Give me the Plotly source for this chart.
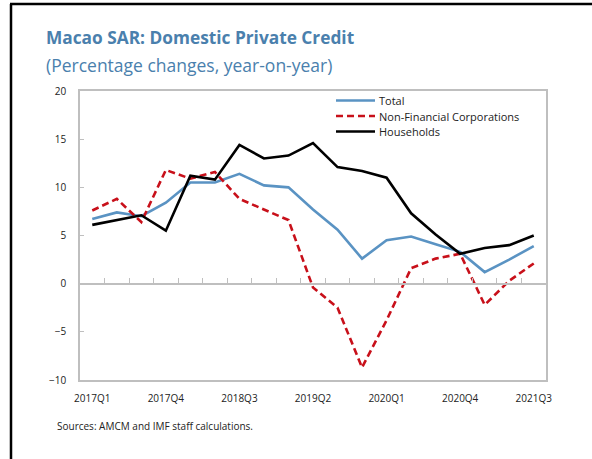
import plotly.graph_objects as go

# Quarterly year-on-year growth of domestic private credit, Macao SAR
quarters = ["2017Q1", "2017Q2", "2017Q3", "2017Q4", "2018Q1", "2018Q2", "2018Q3",
            "2018Q4", "2019Q1", "2019Q2", "2019Q3", "2019Q4", "2020Q1", "2020Q2",
            "2020Q3", "2020Q4", "2021Q1", "2021Q2", "2021Q3"]
total = [6.7, 7.4, 7.0, 8.4, 10.5, 10.5, 11.4, 10.2, 10.0, 7.7, 5.6, 2.6,
         4.5, 4.9, 4.1, 3.3, 1.2, 2.5, 3.9]
non_financial = [7.6, 8.8, 6.4, 11.8, 10.9, 11.6, 8.8, 7.7, 6.6, -0.4, -2.5, -8.7,
                 -3.8, 1.6, 2.6, 3.1, -2.2, 0.3, 2.1]
households = [6.1, 6.6, 7.1, 5.5, 11.2, 10.8, 14.4, 13.0, 13.3, 14.6, 12.1, 11.7,
              11.0, 7.3, 5.1, 3.1, 3.7, 4.0, 5.0]
series_names = ["Total", "Non-Financial Corporations", "Households"]
label_every = 3

W, H = 592, 459
L, R, T, B = 80, 46, 91, 79
pw, ph = W - L - R, H - T - B

BLUE = "#5a93c3"
RED = "#c8101a"
TITLE = "#4a80ad"
GRID = "#bfbfbf"
FONT = "Open Sans, Noto Sans, sans-serif"

styles = [dict(color=BLUE, width=2.6, dash="solid"),
          dict(color=RED, width=2.6, dash="7px,4px"),
          dict(color="black", width=2.6, dash="solid")]

xs = list(range(len(quarters)))

fig = go.Figure()
for name, values, st in zip(series_names, [total, non_financial, households], styles):
    fig.add_trace(go.Scatter(x=xs, y=values, name=name, mode="lines",
                             line=st, showlegend=False))

# secondary axis drawn along y = 0 carrying the quarter-boundary tick marks
fig.add_trace(go.Scatter(x=[xs[0]], y=[0], xaxis="x2", showlegend=False,
                         mode="markers", marker=dict(opacity=0), hoverinfo="skip"))

ymin, ymax = -10, 20
zero_pos = (0 - ymin) / (ymax - ymin)

fig.update_layout(
    width=W, height=H,
    margin=dict(l=L, r=R, t=T, b=B),
    paper_bgcolor="white", plot_bgcolor="white",
    font=dict(family=FONT, size=10, color="#222222"),
    showlegend=False,
    xaxis=dict(range=[-0.5, len(quarters) - 0.5],
               tickvals=xs[::label_every], ticktext=quarters[::label_every],
               showline=True, linecolor=GRID, linewidth=1.5, mirror=True,
               showgrid=False, zeroline=False, ticks="", ticklabelstandoff=8,
               tickfont=dict(size=10)),
    xaxis2=dict(range=[-0.5, len(quarters) - 0.5], overlaying="x", anchor="free",
                position=zero_pos, side="bottom",
                tickvals=[x + 0.5 for x in xs[:-1]], showticklabels=False,
                ticks="inside", ticklen=5, tickcolor=GRID, tickwidth=1,
                showline=True, linecolor=GRID, linewidth=1.5, showgrid=False,
                zeroline=False),
    yaxis=dict(range=[ymin, ymax], dtick=5, showline=True, linecolor=GRID,
               linewidth=1.5, mirror=True, showgrid=False, zeroline=False,
               ticks="inside", ticklen=4, tickcolor=GRID,
               ticklabelstandoff=10, tickfont=dict(size=10)),
)

def px_x(p):
    return (p - L) / pw

def px_y(p):
    return (H - B - p) / ph

# compact legend: line sample + label per series
legend_rows = [100.5, 116, 131.5]
for name, st, row in zip(series_names, styles, legend_rows):
    fig.add_shape(type="line", xref="paper", yref="paper",
                  x0=px_x(336), x1=px_x(375), y0=px_y(row), y1=px_y(row),
                  line=dict(color=st["color"], width=2.6, dash=st["dash"]))
    fig.add_annotation(text=name, xref="paper", yref="paper",
                       x=px_x(377), y=px_y(row), xanchor="left", yanchor="middle",
                       showarrow=False,
                       font=dict(size=11, color="#222222", family=FONT))

# outer frame: top and left rules
fig.add_shape(type="line", xref="paper", yref="paper",
              x0=px_x(10), x1=px_x(W + 5), y0=px_y(4), y1=px_y(4),
              line=dict(color="black", width=2.5))
fig.add_shape(type="line", xref="paper", yref="paper",
              x0=px_x(11), x1=px_x(11), y0=px_y(4), y1=px_y(H + 5),
              line=dict(color="black", width=2.5))

fig.add_annotation(text="<b>Macao SAR: Domestic Private Credit</b>",
                   xref="paper", yref="paper", x=px_x(44), y=px_y(37),
                   xanchor="left", yanchor="middle", showarrow=False,
                   font=dict(size=17.3, color=TITLE, family=FONT))
fig.add_annotation(text="(Percentage changes, year-on-year)",
                   xref="paper", yref="paper", x=px_x(44), y=px_y(65),
                   xanchor="left", yanchor="middle", showarrow=False,
                   font=dict(size=17.5, color=TITLE, family=FONT))
fig.add_annotation(text="Sources: AMCM and IMF staff calculations.",
                   xref="paper", yref="paper", x=px_x(55), y=px_y(426),
                   xanchor="left", yanchor="middle", showarrow=False,
                   font=dict(size=10, color="#222222", family=FONT))

fig.write_html("out.html")
